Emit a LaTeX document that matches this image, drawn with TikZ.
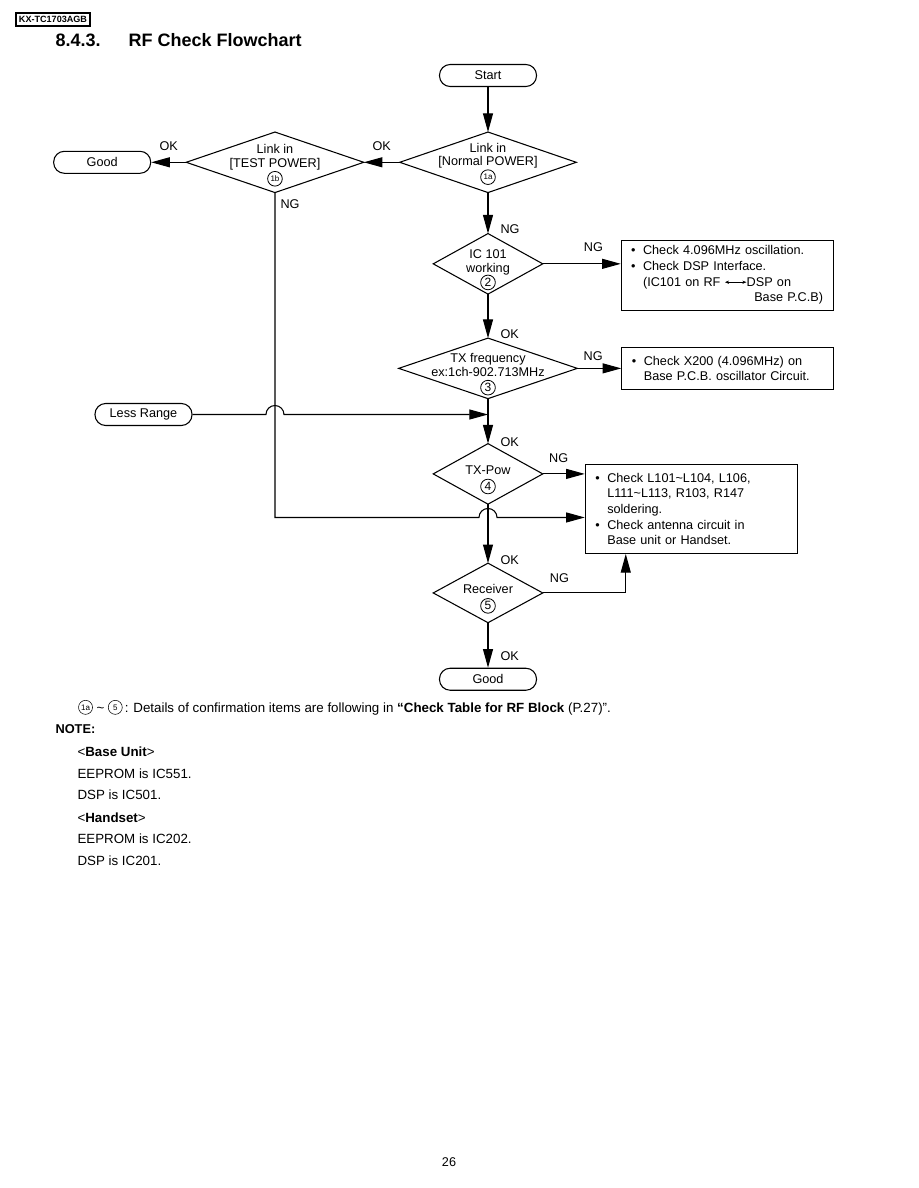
\documentclass[tikz,border=0pt]{standalone}
\usepackage{fontspec}
\setmainfont{Liberation Sans}
\usepackage{tikz}
\usetikzlibrary{shapes.geometric, arrows.meta, positioning, calc}

% circled step numbers
\newcommand{\cnum}[1]{\smash{\tikz[baseline={([yshift=-3.3pt]cn.center)}]\node[circle, draw, line width=0.6pt, inner sep=0pt, minimum size=11pt, font=\fontsize{9}{9}\selectfont] (cn) {#1};}}
\newcommand{\fcnum}[1]{\tikz[baseline={([yshift=-3.5pt]cn.center)}]\node[circle, draw, line width=0.4pt, inner sep=0pt, minimum size=10.5pt, font=\fontsize{6}{6}\selectfont] (cn) {#1};}
\newcommand{\smallab}[1]{{\fontsize{6}{6}\selectfont #1}}
\newcommand{\dtop}[1][13.5pt]{\rule{0pt}{#1}}

\begin{document}
\begin{tikzpicture}[x=0.75pt, y=-0.75pt, line width=0.8pt, font=\fontsize{9.5}{11}\selectfont]
    \tikzstyle{term} = [rectangle, draw, rounded corners=8pt, minimum width=72.75pt, minimum height=16.5pt, inner sep=0pt]
    \tikzstyle{decision} = [rectangle, minimum height=45pt, inner sep=0pt, align=center, font=\fontsize{9.5}{10}\selectfont]
    \tikzstyle{chkbox} = [rectangle, draw, text width=144pt, inner xsep=7.5pt, align=left, font=\fontsize{9.5}{11.75}\selectfont]
    \tikzstyle{lbl} = [inner sep=1pt]
    \tikzstyle{notetext} = [anchor=base west, inner sep=0pt, font=\fontsize{10}{12}\selectfont]
    \tikzstyle{arrow} = [->, >={Triangle[length=14pt,width=7.5pt]}]

    \path[use as bounding box, fill=white] (0,0) rectangle (918,1188);

    % header
    \node (model) [draw, minimum width=55.5pt, minimum height=9.75pt, inner sep=0pt, font=\fontsize{6.8}{8}\selectfont\bfseries] at (53,19.5) {KX-TC1703AGB};
    \node (secnum) [anchor=base west, inner sep=0pt, font=\fontsize{13.5}{16}\selectfont\bfseries] at (55,47) {8.4.3.};
    \node (title) [anchor=base west, inner sep=0pt, font=\fontsize{13.5}{16}\selectfont\bfseries] at (128,47) {RF Check Flowchart};

    % flowchart
    \node (start) [term] at (488,75.5) {Start};
    \node (lnk1a) [decision, minimum width=132pt, below=33.75pt of start] {Link in\\{[Normal POWER]}\\[2pt]\cnum{\smallab{1a}}};
    \node (lnk1b) [decision, minimum width=132.75pt, left=27pt of lnk1a] {\dtop[9.3pt]Link in\\{[TEST POWER]}\\[2pt]\cnum{\smallab{1b}}};
    \node (good1) [term, left=26.25pt of lnk1b] {Good};
    \node (ic2) [decision, minimum width=81.75pt, below=30.75pt of lnk1a] {\dtop IC 101\\working\\[1pt]\cnum{2}};
    \node (txf3) [decision, minimum width=133.5pt, below=33pt of ic2] {\dtop TX frequency\\ex:1ch-902.713MHz\\[2pt]\cnum{3}};
    \node (txp4) [decision, minimum width=81.75pt, below=33.75pt of txf3] {\dtop TX-Pow\\[2pt]\cnum{4}};
    \node (rcv5) [decision, minimum width=81.75pt, minimum height=44.25pt, below=44.25pt of txp4] {\dtop Receiver\\[2.5pt]\cnum{5}};
    \node (good2) [term, below=33.75pt of rcv5] {Good};
    \node (less) [term] at (143.5,414.5) {Less Range};

    \foreach \dn in {lnk1a,lnk1b,ic2,txf3,txp4,rcv5}
        \draw (\dn.west) -- (\dn.north) -- (\dn.east) -- (\dn.south) -- cycle;

    \node (chk2) [chkbox, minimum height=52.5pt, below right=-18pt and 58.5pt of ic2.east] {\makebox[9pt][l]{\textbullet}Check 4.096MHz oscillation.\\
        \makebox[9pt][l]{\textbullet}Check DSP Interface.\\
        \hspace*{9pt}(IC101 on RF \tikz[baseline=-3pt]\draw[line width=0.5pt, {Stealth[length=3pt,width=2.5pt]}-{Stealth[length=3pt,width=2.5pt]}] (0pt,0pt) -- (16pt,0pt);DSP on\\
        \mbox{}\hfill Base P.C.B)\hspace*{4.5pt}};
    \node (chk3) [chkbox, minimum height=31.5pt, right=33pt of txf3.east] {\makebox[9pt][l]{\textbullet}Check X200 (4.096MHz) on\\
        \hspace*{9pt}Base P.C.B. oscillator Circuit.};
    \node (chk4) [chkbox, minimum height=66.75pt, below right=-7.5pt and 31.5pt of txp4.east] {\makebox[9pt][l]{\textbullet}Check L101\textasciitilde L104, L106,\\
        \hspace*{9pt}L111\textasciitilde L113, R103, R147\\
        \hspace*{9pt}soldering.\\
        \makebox[9pt][l]{\textbullet}Check antenna circuit in\\
        \hspace*{9pt}Base unit or Handset.};
    \coordinate (tstin) at ($(chk4.west)+(0,-6.4pt)$);

    \draw [arrow] (start) -- (lnk1a);
    \draw [arrow] (lnk1a.west) -- node[lbl, above=7.5pt] {OK} (lnk1b.east);
    \draw [arrow] (lnk1b.west) -- node[lbl, above=7.5pt] {OK} (good1.east);
    \draw [arrow] (lnk1a.south) -- node[lbl, at end, anchor=west, xshift=8pt, yshift=3pt] {NG} (ic2.north);
    \draw [arrow] (ic2.east) -- node[lbl, above=7.5pt, pos=0.65] {NG} (ic2.east -| chk2.west);
    \draw [arrow] (ic2.south) -- node[lbl, at end, anchor=west, xshift=8pt, yshift=3pt] {OK} (txf3.north);
    \draw [arrow] (txf3.east) -- node[lbl, above=4.5pt, pos=0.36] {NG} (chk3.west);
    \draw [arrow] (txf3.south) -- node[lbl, at end, anchor=west, xshift=8pt, yshift=1pt] {OK} (txp4.north);
    \draw [arrow] (txp4.east) -- node[lbl, above=6.85pt, pos=0.38] {NG} (txp4.east -| chk4.west);
    \draw [arrow] (txp4.south) -- node[lbl, at end, anchor=west, xshift=8pt, yshift=2pt] {OK} (rcv5.north);
    \draw [arrow] (rcv5.east) -| node[lbl, above=6.1pt, pos=0.1] {NG} ($(chk4.south west)+(30.75pt,0)$);
    \draw [arrow] (rcv5.south) -- node[lbl, at end, anchor=west, xshift=8pt, yshift=9pt] {OK} (good2.north);
    \draw [arrow] (less.east) -- ($(less.east -| lnk1b.south)+(-6.75pt,0)$) arc[start angle=180, end angle=0, radius=6.75pt] -- (less.east -| txf3.south);
    \draw [arrow] (lnk1b.south) node[lbl, anchor=north west, xshift=2.75pt, yshift=-3.75pt] {NG} |- ($(tstin -| txp4.south)+(-6.75pt,0)$) arc[start angle=180, end angle=0, radius=6.75pt] -- (tstin);

    % notes
    \node (foot) [notetext] at (78,712) {\fcnum{1a}\ \textasciitilde\ \fcnum{5}\,: Details of confirmation items are following in \textbf{“Check Table for RF Block} (P.27)”.};
    \node (note) [notetext, font=\fontsize{9.6}{12}\selectfont\bfseries] at (55,733) {NOTE:};
    \node (base) [notetext] at (77,756.5) {<\textbf{Base Unit}>};
    \node (bee) [notetext] at (77,778.5) {EEPROM is IC551.};
    \node (bdsp) [notetext] at (77,799.5) {DSP is IC501.};
    \node (hset) [notetext] at (77,822.5) {<\textbf{Handset}>};
    \node (hee) [notetext] at (77,843.5) {EEPROM is IC202.};
    \node (hdsp) [notetext] at (77,865.5) {DSP is IC201.};
    \node (page) at (449,1162) {26};
\end{tikzpicture}
\end{document}
